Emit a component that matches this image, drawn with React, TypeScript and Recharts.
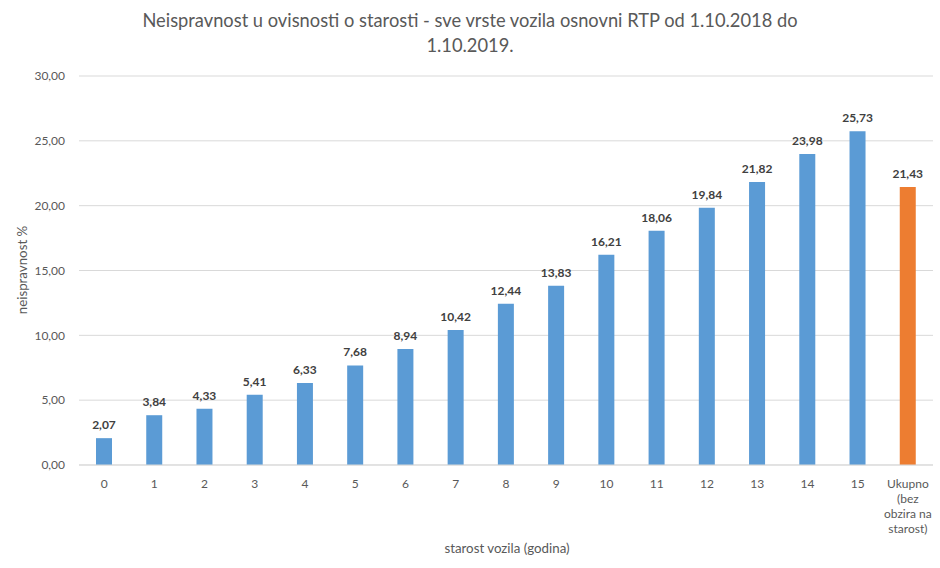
import { BarChart, Bar, XAxis, YAxis, CartesianGrid, Cell, LabelList } from 'recharts'

const categories = ['0', '1', '2', '3', '4', '5', '6', '7', '8', '9', '10', '11', '12', '13', '14', '15', 'Ukupno (bez obzira na starost)']
const values = [2.07, 3.84, 4.33, 5.41, 6.33, 7.68, 8.94, 10.42, 12.44, 13.83, 16.21, 18.06, 19.84, 21.82, 23.98, 25.73, 21.43]
const yTicks = [0, 5, 10, 15, 20, 25, 30]

const lastLabelLines = ['Ukupno', '(bez', 'obzira na', 'starost)']

const data = categories.map((name, i) => ({ name, value: values[i] }))

const FONT = 'Lato, "Open Sans", sans-serif'
const fmt = (v: number) => v.toFixed(2).replace('.', ',')

function XTick(props: any) {
  const { x, y, payload } = props
  const lines = payload.value.startsWith('Ukupno') ? lastLabelLines : [payload.value]
  return (
    <text x={x} y={y} textAnchor="middle" fill="#595959" fontSize={12} fontFamily={FONT}>
      {lines.map((l, i) => (
        <tspan key={i} x={x} y={y + 21 + i * 15}>
          {l}
        </tspan>
      ))}
    </text>
  )
}

export default function App() {
  return (
    <div style={{ position: 'absolute', left: 0, top: 0, width: 940, height: 568, background: '#fff', fontFamily: FONT }}>
      <div
        style={{
          position: 'absolute',
          top: 8,
          left: 0,
          width: 940,
          textAlign: 'center',
          fontSize: 18.3,
          lineHeight: '25px',
          color: '#595959',
        }}
      >
        Neispravnost u ovisnosti o starosti - sve vrste vozila osnovni RTP od 1.10.2018 do
        <br />
        1.10.2019.
      </div>
      <BarChart
        width={940}
        height={568}
        data={data}
        margin={{ top: 76, right: 7, left: 0, bottom: 0 }}
        style={{ position: 'absolute', left: 0, top: 0 }}
      >
        <CartesianGrid vertical={false} stroke="#d9d9d9" />
        <XAxis
          dataKey="name"
          interval={0}
          height={103}
          tickLine={false}
          tickSize={0}
          axisLine={{ stroke: '#d9d9d9' }}
          tick={<XTick />}
          label={() => (
            <text x={507} y={553} textAnchor="middle" fill="#595959" fontSize={13.3} fontFamily={FONT}>
              starost vozila (godina)
            </text>
          )}
        />
        <YAxis
          width={79}
          domain={[0, 30]}
          ticks={yTicks}
          tickFormatter={fmt}
          axisLine={false}
          tickLine={false}
          tickMargin={8}
          tick={{ fill: '#595959', fontSize: 12, fontFamily: FONT }}
          label={() => (
            <text
              x={27}
              y={270}
              transform="rotate(-90 27 270)"
              textAnchor="middle"
              fill="#595959"
              fontSize={13.3}
              fontFamily={FONT}
            >
              neispravnost %
            </text>
          )}
        />
        <Bar dataKey="value" barSize={16} isAnimationActive={false}>
          {data.map((d, i) => (
            <Cell key={i} fill={i === data.length - 1 ? '#ed7d31' : '#5b9bd5'} />
          ))}
          <LabelList
            dataKey="value"
            position="top"
            offset={9}
            formatter={(v: any) => fmt(Number(v))}
            style={{ fill: '#404040', fontSize: 12, fontWeight: 700, fontFamily: FONT }}
          />
        </Bar>
      </BarChart>
    </div>
  )
}
